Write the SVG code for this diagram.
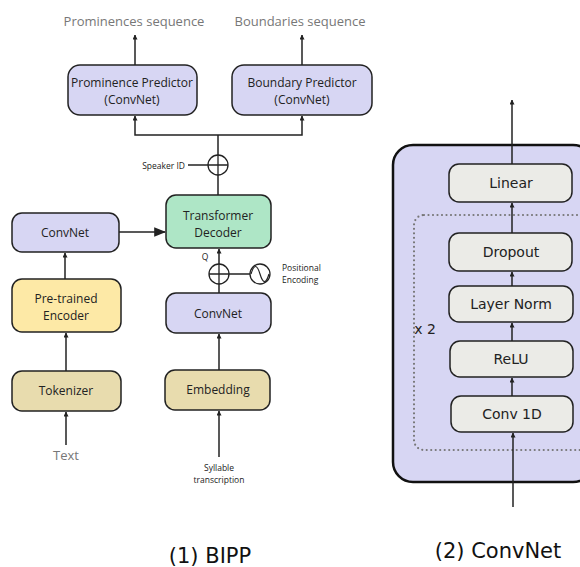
<svg xmlns="http://www.w3.org/2000/svg" width="580" height="567" viewBox="0 0 580 567">
<style>
  .node rect { stroke: #222; stroke-width: 1.5; }
  .blue { fill: #d7d6f3; }
  .green { fill: #aee6c6; }
  .yellow { fill: #fde9a6; }
  .khaki { fill: #e8dcae; }
  .grey { fill: #ebebe7; }
  .t { font-family: "Open Sans", "Noto Sans", sans-serif; font-size: 12px; fill: #222; text-anchor: middle; dominant-baseline: central; }
  .g { font-family: "Open Sans", "Noto Sans", sans-serif; font-size: 13px; fill: #777; text-anchor: middle; dominant-baseline: central; }
  .s { font-family: "Open Sans", "Noto Sans", sans-serif; font-size: 8.5px; fill: #222; dominant-baseline: central; }
  .d { font-family: "DejaVu Sans", sans-serif; font-size: 14px; fill: #222; text-anchor: middle; dominant-baseline: central; }
  .cap { font-family: "DejaVu Sans", sans-serif; font-size: 21px; fill: #111; text-anchor: middle; }
  .conn line, .conn path { stroke: #222; stroke-width: 1.5; fill: none; }
  .arr { marker-end: url(#ah); }
</style>
<defs>
  <marker id="ah" viewBox="0 0 10 10" refX="9" refY="5" markerWidth="5" markerHeight="5" orient="auto" markerUnits="userSpaceOnUse">
    <path d="M0,0 L10,5 L0,10 z" fill="#222"/>
  </marker>
  <marker id="ahb" viewBox="0 0 10 10" refX="9" refY="5" markerWidth="12" markerHeight="12" orient="auto" markerUnits="userSpaceOnUse">
    <path d="M0,1 L10,5 L0,9 z" fill="#222"/>
  </marker>
</defs>
<rect width="580" height="567" fill="#ffffff"/>

<!-- right panel background -->
<g id="convnet-panel">
  <rect x="393" y="145" width="200" height="337" rx="20" fill="#d7d6f3" stroke="#111" stroke-width="2.5"/>
  <rect x="414" y="215" width="175" height="235" rx="10" fill="none" stroke="#777" stroke-width="2.2" stroke-dasharray="0 4.5" stroke-linecap="round"/>
  <text class="d" x="425" y="329">x 2</text>
</g>

<g class="conn">
  <!-- left BIPP -->
  <line class="arr" x1="135" y1="65" x2="135" y2="35"/>
  <line class="arr" x1="302" y1="65" x2="302" y2="35"/>
  <path d="M218,195 L218,135"/>
  <path class="arr" d="M218,135 L135,135 L135,116"/>
  <path class="arr" d="M218,135 L302,135 L302,116"/>
  <line x1="188" y1="165" x2="208" y2="165"/>
  <line style="marker-end:url(#ahb)" x1="119" y1="232" x2="165" y2="232"/>
  <line class="arr" x1="65" y1="279" x2="65" y2="253"/>
  <line class="arr" x1="66" y1="371" x2="66" y2="333"/>
  <line class="arr" x1="66" y1="445" x2="66" y2="412"/>
  <line class="arr" x1="219" y1="293" x2="219" y2="249"/>
  <line x1="229" y1="274" x2="250" y2="274"/>
  <line class="arr" x1="219" y1="370" x2="219" y2="334"/>
  <line class="arr" x1="219" y1="457" x2="219" y2="411"/>
  <!-- ConvNet panel -->
  <line class="arr" x1="512" y1="164" x2="512" y2="100"/>
  <line class="arr" x1="512" y1="233" x2="512" y2="203"/>
  <line class="arr" x1="512" y1="286" x2="512" y2="272"/>
  <line class="arr" x1="512" y1="341" x2="512" y2="323"/>
  <line class="arr" x1="512" y1="396" x2="512" y2="378"/>
  <line class="arr" x1="513" y1="507" x2="513" y2="433"/>
</g>

<g id="speaker-add">
  <circle cx="218" cy="165" r="10" fill="#fff" stroke="#222" stroke-width="1.3"/>
  <path d="M208,165 H228 M218,155 V175" stroke="#222" stroke-width="1.3"/>
  <text class="s" x="185" y="165" style="text-anchor:end">Speaker ID</text>
</g>

<g id="q-add">
  <circle cx="219" cy="274" r="10" fill="#fff" stroke="#222" stroke-width="1.3"/>
  <path d="M209,274 H229 M219,264 V284" stroke="#222" stroke-width="1.3"/>
  <text class="s" x="205" y="256" style="text-anchor:middle">Q</text>
</g>

<g id="positional-encoding">
  <circle cx="260" cy="274" r="10" fill="#fff" stroke="#222" stroke-width="1.3"/>
  <path d="M251,274 C254,264 257,264 260,274 C263,284 266,284 269,274" fill="none" stroke="#222" stroke-width="1.2"/>
  <text class="s" x="282" y="267">Positional</text>
  <text class="s" x="282" y="279">Encoding</text>
</g>

<text class="g" x="134" y="21">Prominences sequence</text>
<text class="g" x="300" y="21">Boundaries sequence</text>

<g id="prominence-predictor" class="node">
  <rect class="blue" x="68" y="65" width="129" height="50" rx="12"/>
  <text class="t" x="132" y="82">Prominence Predictor</text>
  <text class="t" x="132" y="99">(ConvNet)</text>
</g>
<g id="boundary-predictor" class="node">
  <rect class="blue" x="232" y="65" width="140" height="50" rx="12"/>
  <text class="t" x="302" y="82">Boundary Predictor</text>
  <text class="t" x="302" y="99">(ConvNet)</text>
</g>
<g id="transformer-decoder" class="node">
  <rect class="green" x="166" y="195" width="105" height="53" rx="10"/>
  <text class="t" x="218" y="215">Transformer</text>
  <text class="t" x="218" y="232">Decoder</text>
</g>
<g id="convnet-left" class="node">
  <rect class="blue" x="12" y="213" width="107" height="39" rx="10"/>
  <text class="t" x="65" y="232">ConvNet</text>
</g>
<g id="pretrained-encoder" class="node">
  <rect class="yellow" x="12" y="279" width="109" height="53" rx="10"/>
  <text class="t" x="66" y="298">Pre-trained</text>
  <text class="t" x="66" y="315">Encoder</text>
</g>
<g id="tokenizer" class="node">
  <rect class="khaki" x="12" y="371" width="109" height="40" rx="10"/>
  <text class="t" x="66" y="390">Tokenizer</text>
</g>
<text class="g" x="66" y="455">Text</text>
<g id="convnet-right" class="node">
  <rect class="blue" x="166" y="293" width="105" height="40" rx="10"/>
  <text class="t" x="218" y="313">ConvNet</text>
</g>
<g id="embedding" class="node">
  <rect class="khaki" x="165" y="370" width="105" height="40" rx="10"/>
  <text class="t" x="218" y="389">Embedding</text>
</g>
<text class="s" x="219" y="467" style="text-anchor:middle">Syllable</text>
<text class="s" x="219" y="479" style="text-anchor:middle">transcription</text>

<text class="cap" x="210" y="563">(1) BIPP</text>

<g id="linear" class="node">
  <rect class="grey" x="449" y="164" width="123" height="38" rx="10"/>
  <text class="d" x="511" y="183">Linear</text>
</g>
<g id="dropout" class="node">
  <rect class="grey" x="449" y="233" width="123" height="38" rx="10"/>
  <text class="d" x="511" y="252">Dropout</text>
</g>
<g id="layer-norm" class="node">
  <rect class="grey" x="449" y="286" width="124" height="36" rx="10"/>
  <text class="d" x="511" y="304">Layer Norm</text>
</g>
<g id="relu" class="node">
  <rect class="grey" x="450" y="341" width="123" height="36" rx="10"/>
  <text class="d" x="511" y="359">ReLU</text>
</g>
<g id="conv1d" class="node">
  <rect class="grey" x="451" y="396" width="122" height="36" rx="10"/>
  <text class="d" x="512" y="414">Conv 1D</text>
</g>

<text class="cap" x="498" y="558">(2) ConvNet</text>
</svg>
